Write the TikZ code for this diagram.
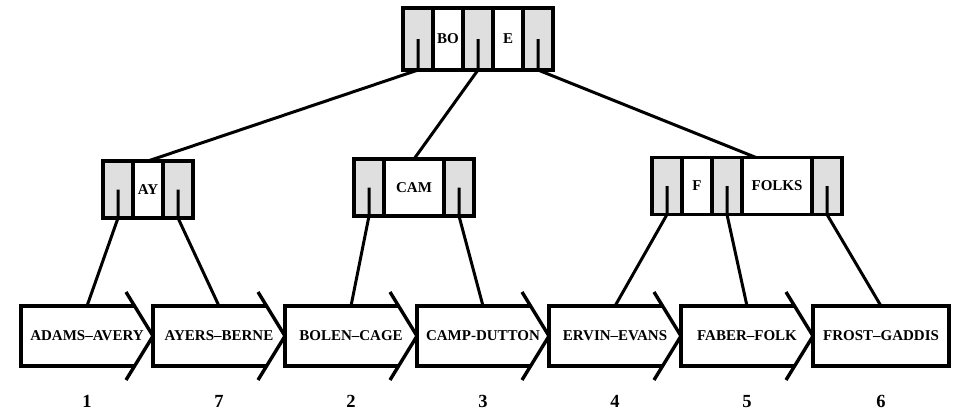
\documentclass[tikz,border=0pt]{standalone}
\usepackage{fontspec}
\setmainfont{Liberation Serif}
\usetikzlibrary{positioning,calc}

\begin{document}
\begin{tikzpicture}[
    x=1pt, y=-1pt,
    font=\fontsize{15}{18}\selectfont\bfseries,
    cell/.style={draw, line width=3.4pt, minimum width=30pt, minimum height=57pt,
                 inner sep=0pt, outer sep=0pt},
    ptr/.style={cell, fill=gray!25},
    key/.style={cell, fill=white},
    tall/.style={minimum height=62pt},
    leaf/.style={minimum width=132pt, minimum height=60pt, inner sep=0pt, outer sep=0pt},
    outline/.style={line width=3.4pt},
    link/.style={line width=3pt},
    num/.style={font=\fontsize{18.5}{22}\selectfont\bfseries, inner sep=0pt},
  ]
    \useasboundingbox (0,0) rectangle (960,415);

    % Root node
    \node[ptr, tall] (root0) at (418,39) {};
    \node[key, tall, right=0pt of root0] (bo) {BO};
    \node[ptr, tall, right=0pt of bo] (root1) {};
    \node[key, tall, right=0pt of root1] (e) {E};
    \node[ptr, tall, right=0pt of e] (root2) {};

    % Second level
    \node[ptr] (ay0) at (118,189.5) {};
    \node[key, right=0pt of ay0] (ay) {AY};
    \node[ptr, right=0pt of ay] (ay1) {};

    \node[ptr] (cam0) at (369,187.5) {};
    \node[key, minimum width=60pt, right=0pt of cam0] (cam) {CAM};
    \node[ptr, right=0pt of cam] (cam1) {};

    \node[ptr] (folks0) at (667,186) {};
    \node[key, right=0pt of folks0] (f) {F};
    \node[ptr, right=0pt of f] (folks1) {};
    \node[key, minimum width=70pt, right=0pt of folks1] (folks) {FOLKS};
    \node[ptr, right=0pt of folks] (folks2) {};

    % Sequence set blocks
    \node[leaf] (adams) at (87,336) {ADAMS--AVERY};
    \node[leaf, right=0pt of adams] (ayers) {AYERS--BERNE};
    \node[leaf, right=0pt of ayers] (bolen) {BOLEN--CAGE};
    \node[leaf, right=0pt of bolen] (camp) {CAMP-DUTTON};
    \node[leaf, right=0pt of camp] (ervin) {ERVIN--EVANS};
    \node[leaf, right=0pt of ervin] (faber) {FABER--FOLK};
    \node[leaf, draw, line width=3.4pt, minimum width=136pt, right=0pt of faber] (frost)
        {FROST--GADDIS};

    \draw[outline] ($(adams.north east)+(-18,0)$) -- (adams.north west) -- (adams.south west) -- ($(adams.south east)+(-18,0)$);
    \draw[outline] ($(adams.east)+(-27,-44)$) -- (adams.east) -- ($(adams.east)+(-27,44)$);
    \draw[outline] ($(ayers.north east)+(-18,0)$) -- (ayers.north west) -- (ayers.south west) -- ($(ayers.south east)+(-18,0)$);
    \draw[outline] ($(ayers.east)+(-27,-44)$) -- (ayers.east) -- ($(ayers.east)+(-27,44)$);
    \draw[outline] ($(bolen.north east)+(-18,0)$) -- (bolen.north west) -- (bolen.south west) -- ($(bolen.south east)+(-18,0)$);
    \draw[outline] ($(bolen.east)+(-27,-44)$) -- (bolen.east) -- ($(bolen.east)+(-27,44)$);
    \draw[outline] ($(camp.north east)+(-18,0)$) -- (camp.north west) -- (camp.south west) -- ($(camp.south east)+(-18,0)$);
    \draw[outline] ($(camp.east)+(-27,-44)$) -- (camp.east) -- ($(camp.east)+(-27,44)$);
    \draw[outline] ($(ervin.north east)+(-18,0)$) -- (ervin.north west) -- (ervin.south west) -- ($(ervin.south east)+(-18,0)$);
    \draw[outline] ($(ervin.east)+(-27,-44)$) -- (ervin.east) -- ($(ervin.east)+(-27,44)$);
    \draw[outline] ($(faber.north east)+(-18,0)$) -- (faber.north west) -- (faber.south west) -- ($(faber.south east)+(-18,0)$);
    \draw[outline] ($(faber.east)+(-27,-44)$) -- (faber.east) -- ($(faber.east)+(-27,44)$);

    % Block numbers
    \node[num, below=29pt of adams] (adamsno) {1};
    \node[num, below=29pt of ayers] (ayersno) {7};
    \node[num, below=29pt of bolen] (bolenno) {2};
    \node[num, below=29pt of camp]  (campno)  {3};
    \node[num, below=29pt of ervin] (ervinno) {4};
    \node[num, below=29pt of faber] (faberno) {5};
    \node[num, below=29pt of frost] (frostno) {6};

    % Pointers
    \draw[link] (root0.center) -- (root0.south) -- (ay.north);
    \draw[link] (root1.center) -- (root1.south) -- (cam.north);
    \draw[link] (root2.center) -- (root2.south) -- ($(folks.north west)!0.2!(folks.north east)$);
    \draw[link] (ay0.center) -- (ay0.south) -- (adams.north);
    \draw[link] (ay1.center) -- (ay1.south) -- (ayers.north);
    \draw[link] (cam0.center) -- (cam0.south) -- (bolen.north);
    \draw[link] (cam1.center) -- (cam1.south) -- (camp.north);
    \draw[link] (folks0.center) -- (folks0.south) -- (ervin.north);
    \draw[link] (folks1.center) -- (folks1.south) -- (faber.north);
    \draw[link] (folks2.center) -- (folks2.south) -- (frost.north);
  \end{tikzpicture}
\end{document}
